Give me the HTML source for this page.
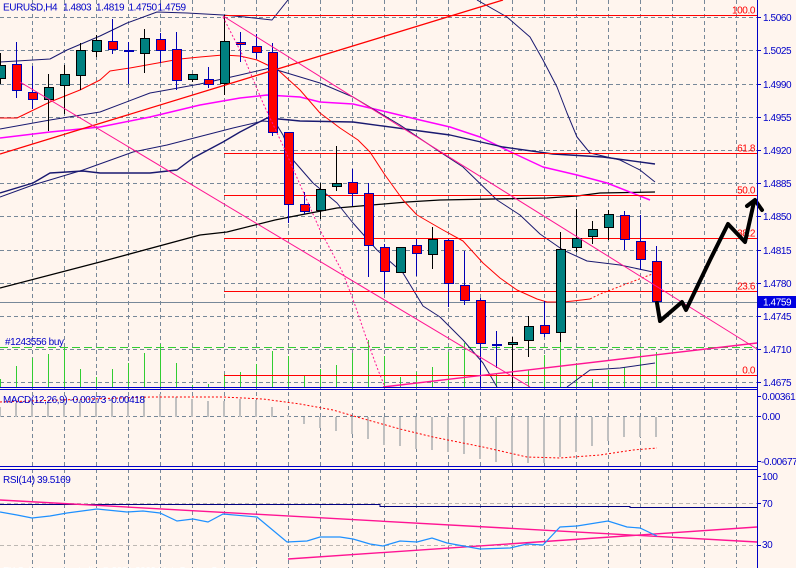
<!DOCTYPE html>
<html><head><meta charset="utf-8"><style>
html,body{margin:0;padding:0;background:#FFF5EE;overflow:hidden}
svg{display:block}
text{font-family:"Liberation Sans",Arial,sans-serif;font-size:10px;letter-spacing:-0.4px}
</style></head><body>
<svg width="796" height="568" viewBox="0 0 796 568" xmlns="http://www.w3.org/2000/svg">
<rect x="0" y="0" width="796" height="568" fill="#FFF5EE"/>

<!-- vertical grid -->
<g stroke="#778899" stroke-width="1" stroke-dasharray="4,3" shape-rendering="crispEdges">
<line x1="32.5" y1="0" x2="32.5" y2="568"/><line x1="64.5" y1="0" x2="64.5" y2="568"/><line x1="96.5" y1="0" x2="96.5" y2="568"/><line x1="128.5" y1="0" x2="128.5" y2="568"/><line x1="160.5" y1="0" x2="160.5" y2="568"/><line x1="192.5" y1="0" x2="192.5" y2="568"/><line x1="224.5" y1="0" x2="224.5" y2="568"/><line x1="256.5" y1="0" x2="256.5" y2="568"/><line x1="288.5" y1="0" x2="288.5" y2="568"/><line x1="320.5" y1="0" x2="320.5" y2="568"/><line x1="352.5" y1="0" x2="352.5" y2="568"/><line x1="384.5" y1="0" x2="384.5" y2="568"/><line x1="416.5" y1="0" x2="416.5" y2="568"/><line x1="448.5" y1="0" x2="448.5" y2="568"/><line x1="480.5" y1="0" x2="480.5" y2="568"/><line x1="512.5" y1="0" x2="512.5" y2="568"/><line x1="544.5" y1="0" x2="544.5" y2="568"/><line x1="576.5" y1="0" x2="576.5" y2="568"/><line x1="608.5" y1="0" x2="608.5" y2="568"/><line x1="640.5" y1="0" x2="640.5" y2="568"/><line x1="672.5" y1="0" x2="672.5" y2="568"/><line x1="704.5" y1="0" x2="704.5" y2="568"/><line x1="736.5" y1="0" x2="736.5" y2="568"/>
<!-- horizontal grid main -->
<line x1="0" y1="17.5" x2="757" y2="17.5"/><line x1="0" y1="50.5" x2="757" y2="50.5"/><line x1="0" y1="84.5" x2="757" y2="84.5"/><line x1="0" y1="117.5" x2="757" y2="117.5"/><line x1="0" y1="150.5" x2="757" y2="150.5"/><line x1="0" y1="183.5" x2="757" y2="183.5"/><line x1="0" y1="216.5" x2="757" y2="216.5"/><line x1="0" y1="250.5" x2="757" y2="250.5"/><line x1="0" y1="283.5" x2="757" y2="283.5"/><line x1="0" y1="316.5" x2="757" y2="316.5"/><line x1="0" y1="349.5" x2="757" y2="349.5"/><line x1="0" y1="382.5" x2="757" y2="382.5"/>
<line x1="0" y1="416.5" x2="757" y2="416.5"/>
</g>
<g stroke="#BDB8B3" stroke-width="1" stroke-dasharray="4,3" shape-rendering="crispEdges">
<line x1="0" y1="503.5" x2="757" y2="503.5"/><line x1="0" y1="545.5" x2="757" y2="545.5"/>
</g>

<!-- volumes -->
<g stroke="#32CD32" stroke-width="1" shape-rendering="crispEdges">
<line x1="0.5" y1="379" x2="0.5" y2="387"/><line x1="16.5" y1="366" x2="16.5" y2="387"/><line x1="32.5" y1="358" x2="32.5" y2="387"/><line x1="48.5" y1="354" x2="48.5" y2="387"/><line x1="64.5" y1="347" x2="64.5" y2="387"/><line x1="80.5" y1="369" x2="80.5" y2="387"/><line x1="96.5" y1="377" x2="96.5" y2="387"/><line x1="112.5" y1="369" x2="112.5" y2="387"/><line x1="128.5" y1="363" x2="128.5" y2="387"/><line x1="144.5" y1="353" x2="144.5" y2="387"/><line x1="160.5" y1="344" x2="160.5" y2="387"/><line x1="176.5" y1="363" x2="176.5" y2="387"/><line x1="192.5" y1="385" x2="192.5" y2="387"/><line x1="208.5" y1="384" x2="208.5" y2="387"/><line x1="224.5" y1="374" x2="224.5" y2="387"/><line x1="240.5" y1="372" x2="240.5" y2="387"/><line x1="256.5" y1="364" x2="256.5" y2="387"/><line x1="272.5" y1="351" x2="272.5" y2="387"/><line x1="288.5" y1="356" x2="288.5" y2="387"/><line x1="304.5" y1="375" x2="304.5" y2="387"/><line x1="320.5" y1="369" x2="320.5" y2="387"/><line x1="336.5" y1="365" x2="336.5" y2="387"/><line x1="352.5" y1="353" x2="352.5" y2="387"/><line x1="368.5" y1="340" x2="368.5" y2="387"/><line x1="384.5" y1="356" x2="384.5" y2="387"/><line x1="400.5" y1="377" x2="400.5" y2="387"/><line x1="416.5" y1="372" x2="416.5" y2="387"/><line x1="432.5" y1="367" x2="432.5" y2="387"/><line x1="448.5" y1="352" x2="448.5" y2="387"/><line x1="464.5" y1="343" x2="464.5" y2="387"/><line x1="480.5" y1="358" x2="480.5" y2="387"/><line x1="496.5" y1="373" x2="496.5" y2="387"/><line x1="512.5" y1="371" x2="512.5" y2="387"/><line x1="528.5" y1="370" x2="528.5" y2="387"/><line x1="544.5" y1="355" x2="544.5" y2="387"/><line x1="560.5" y1="342" x2="560.5" y2="387"/><line x1="576.5" y1="363" x2="576.5" y2="387"/><line x1="592.5" y1="379" x2="592.5" y2="387"/><line x1="608.5" y1="370" x2="608.5" y2="387"/><line x1="624.5" y1="367" x2="624.5" y2="387"/><line x1="640.5" y1="353" x2="640.5" y2="387"/><line x1="656.5" y1="352" x2="656.5" y2="387"/>
</g>

<!-- order line -->
<line x1="0" y1="347.5" x2="757" y2="347.5" stroke="#32CD32" stroke-width="1" stroke-dasharray="8,4" shape-rendering="crispEdges"/>
<!-- current price line -->
<line x1="0" y1="302.5" x2="757" y2="302.5" stroke="#778899" stroke-width="1" shape-rendering="crispEdges"/>

<!-- indicator lines -->
<g fill="none" stroke-linejoin="round">
<polyline stroke="#000000" stroke-width="1.3" points="0,288 100,262 200,235 227,232 275,220 300,215 337,208 407,202 440,200 547,198 577,196 600,193 655,192"/>
<polyline stroke="#FF00FF" stroke-width="1.5" points="0,138 50,132 100,127 150,117 200,105 240,98 267,95 300,97 320,102 353,104 387,112 420,120 450,127 480,137 513,153 543,167 577,175 607,183 650,200"/>
<polyline stroke="#FF0000" stroke-width="1" points="0,118 17,118 50,102 80,90 100,80 110,71 130,68 180,59 200,57 223,55 240,56 257,60 278,70 300,90 320,113 340,128 358,140 370,152 385,175 403,200 417,215 443,230 463,241 483,263 500,278 517,290 537,299 547,302 563,302 573,301 590,299"/>
<polyline stroke="#FF0000" stroke-width="1" stroke-dasharray="2,2" points="590,299 600,294 655,273"/>
<polyline stroke="#191970" stroke-width="1" points="0,62 50,59 67,50 100,36 127,23 157,12 187,13 223,15 245,17 272,20 288,0"/>
<polyline stroke="#191970" stroke-width="1" points="477,0 507,17 530,37 543,60 557,87 567,113 577,137 590,153 620,160 640,170 655,182"/>
<polyline stroke="#191970" stroke-width="1" points="0,129 50,120 100,112 150,93 167,90 200,84 240,75 270,68 277,70 320,83 353,97 400,125 440,152 463,167 497,200 520,215 540,234 563,250 587,261 620,265 653,272"/>
<polyline stroke="#191970" stroke-width="1.4" points="0,193 33,183 50,173 83,171 100,173 133,173 150,173 177,170 193,158 223,142 240,132 267,118 290,120 300,121 353,122 420,131 450,135 503,147 553,154 603,157 655,164"/>
<polyline stroke="#191970" stroke-width="1" points="0,197 33,185 83,170 133,152 167,145 233,128 263,121 275,122 283,135 293,160 313,183 337,203 353,223 377,250 403,273 423,306 440,317 463,340 483,363 497,387"/>
<polyline stroke="#191970" stroke-width="1" points="567,387 590,370 620,368 655,363"/>
</g>

<!-- fib lines -->
<g stroke="#FF0000" stroke-width="1" shape-rendering="crispEdges">
<line x1="224" y1="15.5" x2="757" y2="15.5"/>
<line x1="224" y1="153.5" x2="757" y2="153.5"/>
<line x1="224" y1="195.5" x2="757" y2="195.5"/>
<line x1="224" y1="238.5" x2="757" y2="238.5"/>
<line x1="224" y1="291.5" x2="757" y2="291.5"/>
<line x1="224" y1="375.5" x2="757" y2="375.5"/>
</g>

<!-- candles -->
<g shape-rendering="crispEdges" stroke-width="1">
<!-- wicks bull black -->
<g stroke="#000000">
<line x1="0.5" y1="53" x2="0.5" y2="84"/><line x1="48.5" y1="74" x2="48.5" y2="131"/><line x1="64.5" y1="65" x2="64.5" y2="114"/><line x1="80.5" y1="43" x2="80.5" y2="90"/><line x1="96.5" y1="35" x2="96.5" y2="57"/><line x1="144.5" y1="29" x2="144.5" y2="73"/><line x1="192.5" y1="74" x2="192.5" y2="82"/><line x1="224.5" y1="15" x2="224.5" y2="95"/><line x1="320.5" y1="183" x2="320.5" y2="219"/><line x1="336.5" y1="146" x2="336.5" y2="191"/><line x1="432.5" y1="227" x2="432.5" y2="269"/><line x1="512.5" y1="337" x2="512.5" y2="387"/><line x1="528.5" y1="316" x2="528.5" y2="357"/><line x1="560.5" y1="232" x2="560.5" y2="342"/><line x1="576.5" y1="209" x2="576.5" y2="252"/><line x1="592.5" y1="221" x2="592.5" y2="244"/><line x1="608.5" y1="210" x2="608.5" y2="240"/>
</g>
<g stroke="#0000B4">
<line x1="16.5" y1="42" x2="16.5" y2="98"/><line x1="32.5" y1="66" x2="32.5" y2="109"/><line x1="112.5" y1="19" x2="112.5" y2="54"/><line x1="128.5" y1="42" x2="128.5" y2="84"/><line x1="160.5" y1="33" x2="160.5" y2="63"/><line x1="176.5" y1="32" x2="176.5" y2="90"/><line x1="208.5" y1="67" x2="208.5" y2="88"/><line x1="240.5" y1="32" x2="240.5" y2="62"/><line x1="256.5" y1="34" x2="256.5" y2="59"/><line x1="272.5" y1="43" x2="272.5" y2="136"/><line x1="288.5" y1="132" x2="288.5" y2="223"/><line x1="304.5" y1="192" x2="304.5" y2="214"/><line x1="352.5" y1="169" x2="352.5" y2="206"/><line x1="368.5" y1="183" x2="368.5" y2="277"/><line x1="384.5" y1="244" x2="384.5" y2="294"/><line x1="416.5" y1="239" x2="416.5" y2="276"/><line x1="448.5" y1="239" x2="448.5" y2="307"/><line x1="464.5" y1="251" x2="464.5" y2="305"/><line x1="480.5" y1="298" x2="480.5" y2="387"/><line x1="496.5" y1="331" x2="496.5" y2="368"/><line x1="544.5" y1="301" x2="544.5" y2="337"/><line x1="624.5" y1="211" x2="624.5" y2="250"/><line x1="640.5" y1="215" x2="640.5" y2="270"/><line x1="656.5" y1="246" x2="656.5" y2="302"/>
</g>
<!-- bull bodies -->
<g fill="#008080" stroke="#000000">
<rect x="-3.5" y="65.5" width="9" height="13"/><rect x="44.5" y="87.5" width="9" height="12"/><rect x="60.5" y="74.5" width="9" height="11"/><rect x="76.5" y="50.5" width="9" height="25"/><rect x="92.5" y="40.5" width="9" height="11"/><rect x="140.5" y="38.5" width="9" height="15"/><rect x="188.5" y="74.5" width="9" height="5"/><rect x="220.5" y="41.5" width="9" height="42"/><rect x="316.5" y="189.5" width="9" height="21"/><rect x="332.5" y="183.5" width="9" height="3"/><rect x="396.5" y="247.5" width="9" height="25"/><rect x="428.5" y="239.5" width="9" height="15"/><rect x="508.5" y="342.5" width="9" height="2"/><rect x="524.5" y="326.5" width="9" height="14"/><rect x="556.5" y="249.5" width="9" height="83"/><rect x="572.5" y="238.5" width="9" height="9"/><rect x="588.5" y="229.5" width="9" height="7"/><rect x="604.5" y="214.5" width="9" height="13"/>
</g>
<!-- bear bodies -->
<g fill="#FF0000" stroke="#0000B4">
<rect x="12.5" y="64.5" width="9" height="26"/><rect x="28.5" y="92.5" width="9" height="7"/><rect x="108.5" y="41.5" width="9" height="8"/><rect x="156.5" y="39.5" width="9" height="11"/><rect x="172.5" y="49.5" width="9" height="31"/><rect x="204.5" y="79.5" width="9" height="5"/><rect x="236.5" y="42.5" width="9" height="2"/><rect x="252.5" y="46.5" width="9" height="6"/><rect x="268.5" y="52.5" width="9" height="80"/><rect x="284.5" y="132.5" width="9" height="72"/><rect x="300.5" y="204.5" width="9" height="7"/><rect x="348.5" y="182.5" width="9" height="11"/><rect x="364.5" y="193.5" width="9" height="52"/><rect x="380.5" y="247.5" width="9" height="24"/><rect x="412.5" y="245.5" width="9" height="8"/><rect x="444.5" y="240.5" width="9" height="43"/><rect x="460.5" y="285.5" width="9" height="15"/><rect x="476.5" y="300.5" width="9" height="43"/><rect x="540.5" y="325.5" width="9" height="8"/><rect x="620.5" y="215.5" width="9" height="24"/><rect x="636.5" y="241.5" width="9" height="18"/><rect x="652.5" y="261.5" width="9" height="40"/>
</g>
<!-- dojis -->
<rect x="124" y="50" width="10" height="2" fill="#0000B4"/>
<rect x="492" y="344" width="10" height="2" fill="#0000B4"/>
</g>

<!-- trendlines -->
<g fill="none">
<line x1="0" y1="154" x2="503" y2="0" stroke="#FF0000" stroke-width="1.3"/>
<line x1="223" y1="16" x2="757" y2="349" stroke="#FF1493" stroke-width="1"/>
<line x1="20" y1="82" x2="530" y2="387" stroke="#FF1493" stroke-width="1"/>
<line x1="383" y1="387" x2="757" y2="343" stroke="#FF1493" stroke-width="1.4"/>
<polyline stroke="#FF1493" stroke-width="1" stroke-dasharray="2,2" points="223,17 245,60 263,103 285,150 298,180 320,230 343,273 355,305 368,343 378,370 385,387"/>
</g>

<!-- fib labels -->
<g fill="#FF0000" text-anchor="end">
<text x="755" y="13.5">100.0</text>
<text x="755" y="151.5">61.8</text>
<text x="755" y="193.5">50.0</text>
<text x="755" y="236.5">38.2</text>
<text x="755" y="289.5">23.6</text>
<text x="755" y="373.5">0.0</text>
</g>

<!-- forecast arrow -->
<g fill="none" stroke="#000000" stroke-width="4" stroke-linejoin="round" stroke-linecap="round">
<polyline points="657,303 660,321 682,302 686,310 710,260 728,224 745,242 754,202"/>
<polyline points="747,206 755,200 762,210"/>
</g>

<!-- MACD -->
<g fill="#C0C0C0" shape-rendering="crispEdges">
<rect x="-1" y="407" width="2" height="10"/><rect x="15" y="403" width="2" height="14"/><rect x="31" y="402" width="2" height="15"/><rect x="47" y="402" width="2" height="15"/><rect x="63" y="401" width="2" height="16"/><rect x="79" y="400" width="2" height="17"/><rect x="95" y="399" width="2" height="18"/><rect x="111" y="398" width="2" height="19"/><rect x="127" y="397" width="2" height="20"/><rect x="143" y="396" width="2" height="21"/><rect x="159" y="394" width="2" height="23"/><rect x="175" y="397" width="2" height="20"/><rect x="191" y="399" width="2" height="18"/><rect x="207" y="401" width="2" height="16"/><rect x="223" y="401" width="2" height="16"/><rect x="239" y="399" width="2" height="18"/><rect x="255" y="400" width="2" height="17"/><rect x="271" y="407" width="2" height="10"/><rect x="287" y="415" width="2" height="2"/>
<rect x="303" y="417" width="2" height="7"/><rect x="319" y="417" width="2" height="11"/><rect x="335" y="417" width="2" height="14"/><rect x="351" y="417" width="2" height="17"/><rect x="367" y="417" width="2" height="22"/><rect x="383" y="417" width="2" height="28"/><rect x="399" y="417" width="2" height="29"/><rect x="415" y="417" width="2" height="32"/><rect x="431" y="417" width="2" height="33"/><rect x="447" y="417" width="2" height="35"/><rect x="463" y="417" width="2" height="37"/><rect x="479" y="417" width="2" height="42"/><rect x="495" y="417" width="2" height="45"/><rect x="511" y="417" width="2" height="46"/><rect x="527" y="417" width="2" height="46"/><rect x="543" y="417" width="2" height="46"/><rect x="559" y="417" width="2" height="40"/><rect x="575" y="417" width="2" height="35"/><rect x="591" y="417" width="2" height="29"/><rect x="607" y="417" width="2" height="24"/><rect x="623" y="417" width="2" height="20"/><rect x="639" y="417" width="2" height="20"/><rect x="655" y="417" width="2" height="20"/>
</g>
<polyline fill="none" stroke="#FF0000" stroke-width="1" stroke-dasharray="2,2" points="0,402 150,397 223,397 263,399 300,404 333,410 357,417 400,429 433,437 483,447 527,457 560,458 600,455 633,450 657,448"/>

<!-- RSI -->
<g fill="none">
<polyline stroke="#000080" stroke-width="1" shape-rendering="crispEdges" points="0,504.5 380,504.5 380,506.5 630,506.5 630,507.5 757,507.5"/>
<line x1="0" y1="500" x2="757" y2="542" stroke="#FF1493" stroke-width="1.4"/>
<line x1="288" y1="559" x2="757" y2="527" stroke="#FF1493" stroke-width="1.4"/>
<polyline stroke="#1E90FF" stroke-width="1.2" points="0,512 17,515 32,518 50,516 67,513 97,509 127,512 143,511 160,513 177,521 193,519 208,522 223,514 257,517 287,542 307,541 320,537 340,537 353,539 370,544 383,546 400,541 417,542 432,538 447,543 480,549 510,548 527,544 543,545 560,527 577,526 608,521 627,527 640,528 657,536"/>
</g>

<!-- separators and axis -->
<g stroke="#0000C8" stroke-width="1" shape-rendering="crispEdges">
<line x1="0" y1="387.5" x2="757" y2="387.5"/>
<line x1="0" y1="389.5" x2="757" y2="389.5"/>
<line x1="0" y1="466.5" x2="757" y2="466.5"/>
<line x1="0" y1="469.5" x2="757" y2="469.5"/>
<line x1="757.5" y1="0" x2="757.5" y2="568"/>
<!-- ticks -->
<line x1="757" y1="17.5" x2="761" y2="17.5"/><line x1="757" y1="50.5" x2="761" y2="50.5"/><line x1="757" y1="84.5" x2="761" y2="84.5"/><line x1="757" y1="117.5" x2="761" y2="117.5"/><line x1="757" y1="150.5" x2="761" y2="150.5"/><line x1="757" y1="183.5" x2="761" y2="183.5"/><line x1="757" y1="216.5" x2="761" y2="216.5"/><line x1="757" y1="250.5" x2="761" y2="250.5"/><line x1="757" y1="283.5" x2="761" y2="283.5"/><line x1="757" y1="316.5" x2="761" y2="316.5"/><line x1="757" y1="349.5" x2="761" y2="349.5"/><line x1="757" y1="382.5" x2="761" y2="382.5"/>
<line x1="757" y1="396.5" x2="761" y2="396.5"/><line x1="757" y1="416.5" x2="761" y2="416.5"/><line x1="757" y1="461.5" x2="761" y2="461.5"/>
<line x1="757" y1="476.5" x2="761" y2="476.5"/><line x1="757" y1="503.5" x2="761" y2="503.5"/><line x1="757" y1="545.5" x2="761" y2="545.5"/>
</g>

<!-- current price box -->
<rect x="758" y="296" width="38" height="12" fill="#0000E0"/>
<text x="763" y="305.5" fill="#FFFFFF">1.4759</text>

<!-- axis labels -->
<g fill="#0000C8">
<text x="763" y="21">1.5060</text>
<text x="763" y="54">1.5025</text>
<text x="763" y="88">1.4990</text>
<text x="763" y="121">1.4955</text>
<text x="763" y="154">1.4920</text>
<text x="763" y="187">1.4885</text>
<text x="763" y="220">1.4850</text>
<text x="763" y="254">1.4815</text>
<text x="763" y="287">1.4780</text>
<text x="763" y="320">1.4745</text>
<text x="763" y="353">1.4710</text>
<text x="763" y="386">1.4675</text>
<text x="762" y="400">0.00361</text>
<text x="762" y="420">0.00</text>
<text x="761" y="465">-0.00677</text>
<text x="762" y="480">100</text>
<text x="762" y="507">70</text>
<text x="762" y="548">30</text>
</g>

<!-- panel labels -->
<g fill="#0000C8">
<text x="3" y="10.5">EURUSD,H4</text>
<text x="63" y="10.5">1.4803</text>
<text x="96" y="10.5">1.4819</text>
<text x="128.5" y="10.5">1.4750</text>
<text x="157.5" y="10.5">1.4759</text>
<text x="5" y="345">#1243556 buy</text>
<text x="3" y="403">MACD(12,26,9) -0.00273 -0.00418</text>
<text x="3" y="483">RSI(14) 39.5169</text>
</g>
<text x="3" y="574" fill="#FFFFFF">FX Solutions - Australia: © 2001-2009 MetaQuotes Software Corp.</text>
</svg>
</body></html>
